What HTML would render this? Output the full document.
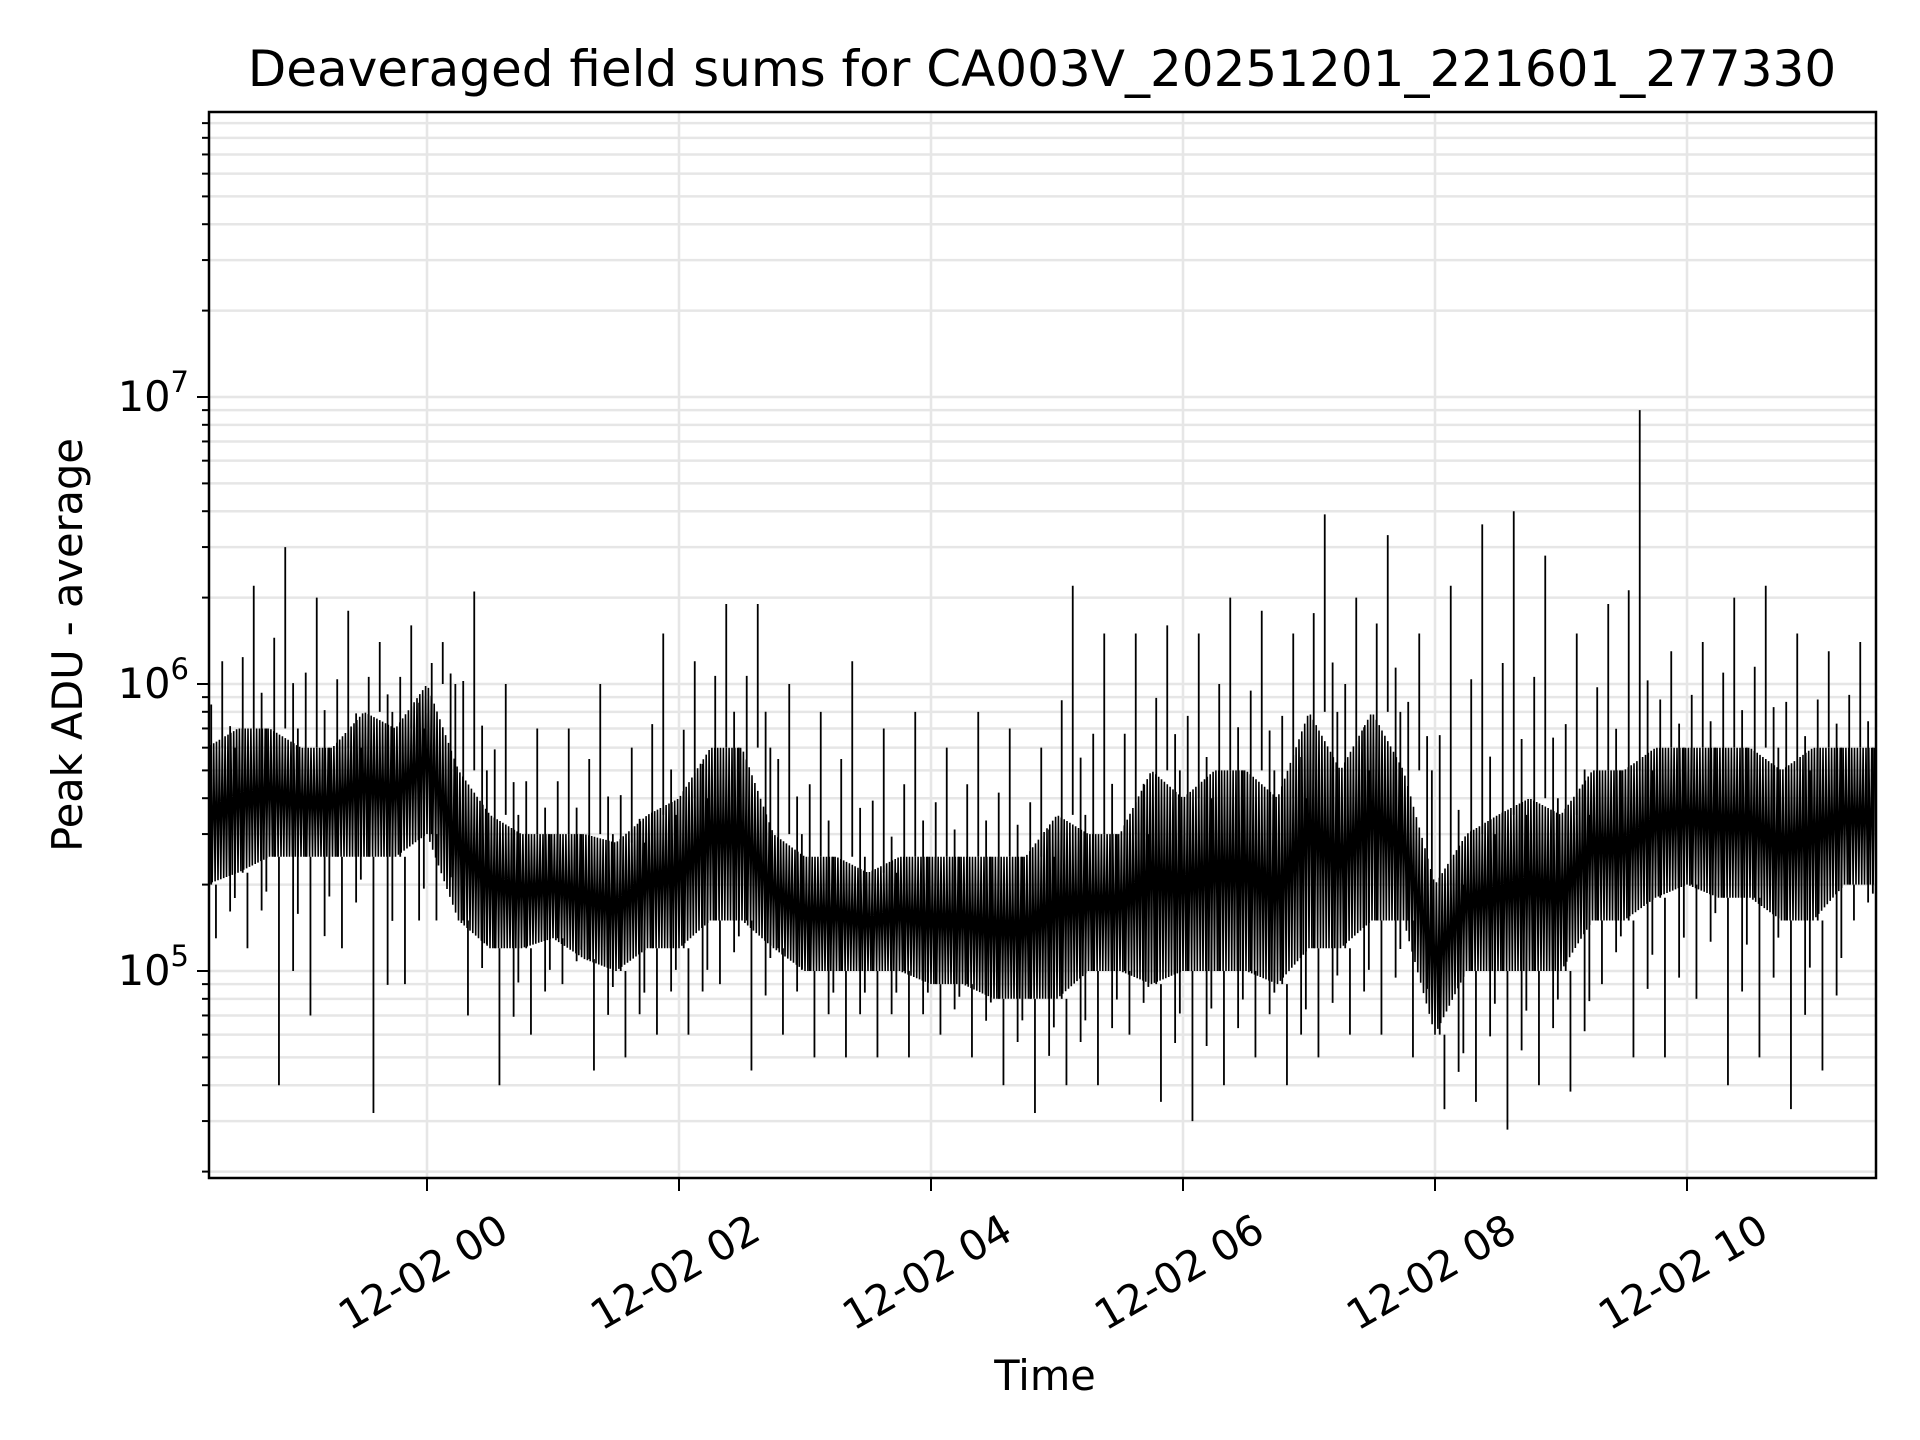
<!DOCTYPE html>
<html><head><meta charset="utf-8"><style>
html,body{margin:0;padding:0;background:#fff}
svg{display:block;font-family:"DejaVu Sans","Liberation Sans",sans-serif}
</style></head><body>
<svg id="chart" width="1920" height="1440" viewBox="0 0 1920 1440" xmlns="http://www.w3.org/2000/svg">
<rect x="0" y="0" width="1920" height="1440" fill="#fff"/>
<g id="grid"></g>
<g id="series"></g>
<rect x="209" y="112" width="1667" height="1066" fill="none" stroke="#000" stroke-width="2.5"/>
<g id="axes"></g>
<text x="1042" y="86" font-size="50" text-anchor="middle">Deaveraged field sums for CA003V_20251201_221601_277330</text>
<text x="1045" y="1390" font-size="41.5" text-anchor="middle">Time</text>
<text transform="translate(82,645) rotate(-90)" font-size="41.5" text-anchor="middle">Peak ADU - average</text>
</svg>
<script>
// Time bins (hours since 12-02 00:00), each 0.25 h wide
const binStart = [-1.75,-1.5,-1.25,-1.0,-0.75,-0.5,-0.25,0,0.25,0.5,0.75,1.0,1.25,1.5,1.75,2.0,2.25,2.5,2.75,3.0,3.25,3.5,3.75,4.0,4.25,4.5,4.75,5.0,5.25,5.5,5.75,6.0,6.25,6.5,6.75,7.0,7.25,7.5,7.75,8.0,8.25,8.5,8.75,9.0,9.25,9.5,9.75,10.0,10.25,10.5,10.75,11.0,11.25];
const spikeLo = [1.3e5,1.2e5,4e4,7e4,1.2e5,3.2e4,9e4,1.5e5,7e4,4e4,6e4,9e4,4.5e4,5e4,6e4,6e4,9e4,4.5e4,6e4,5e4,5e4,5e4,5e4,6e4,5e4,4e4,3.2e4,4e4,4e4,6e4,3.5e4,3e4,4e4,5e4,4e4,5e4,6e4,6e4,5e4,3.3e4,3.5e4,2.8e4,4e4,3.8e4,9e4,5e4,5e4,8e4,4e4,5e4,3.3e4,4.5e4,1.5e5];
const coreLo = [2e5,2.2e5,2.5e5,2.5e5,2.5e5,2.5e5,2.5e5,3e5,1.5e5,1.2e5,1.2e5,1.3e5,1.1e5,1e5,1.2e5,1.2e5,1.5e5,1.5e5,1.2e5,1e5,1e5,1e5,1e5,9e4,9e4,8e4,8e4,8e4,1e5,1e5,9e4,1e5,1e5,1e5,9e4,1.2e5,1.2e5,1.5e5,1.5e5,6e4,1e5,1e5,1e5,1e5,1.5e5,1.5e5,1.8e5,2e5,1.8e5,1.8e5,1.5e5,1.5e5,2e5];
const coreHi = [6e5,7e5,7e5,6e5,6e5,8e5,7e5,1e6,5e5,3.5e5,3e5,3e5,3e5,2.8e5,3.5e5,4e5,6e5,6e5,3e5,2.5e5,2.5e5,2.2e5,2.5e5,2.5e5,2.5e5,2.5e5,2.5e5,3.5e5,3e5,3e5,5e5,4e5,5e5,5e5,4e5,8e5,5e5,8e5,5e5,2e5,3e5,3.5e5,4e5,3.5e5,5e5,5e5,6e5,6e5,6e5,6e5,5e5,6e5,6e5];
const spikeHi = [1.2e6,2.2e6,3e6,2e6,1.8e6,1.4e6,1.6e6,1.4e6,2.1e6,1e6,7e5,7e5,1e6,6e5,1.5e6,1.2e6,1.9e6,1.9e6,1e6,8e5,1.2e6,7e5,8e5,6e5,8e5,7e5,6e5,2.2e6,1.5e6,1.5e6,1.6e6,1.5e6,2e6,1.8e6,1.5e6,3.9e6,2e6,3.3e6,1.5e6,2.2e6,3.6e6,4e6,2.8e6,1.5e6,1.9e6,9e6,1.3e6,1.4e6,2e6,2.2e6,1.5e6,1.3e6,1.4e6];
const xTickHours = [0,2,4,6,8,10];
const xTickLabels = ["12-02 00","12-02 02","12-02 04","12-02 06","12-02 08","12-02 10"];
const yMajorExp = [5,6,7];

const NS = "http://www.w3.org/2000/svg";
const L = 209, R = 1876, T = 112, B = 1178;
const binW = 0.25;
function xs(h){ return 427 + h*126; }
function ys(v){ return 397 + (7 - Math.log10(v))*287; }
function mk(tag, attrs, parent){
  const e = document.createElementNS(NS, tag);
  for (const k in attrs) e.setAttribute(k, attrs[k]);
  parent.appendChild(e); return e;
}
const grid = document.getElementById('grid');
const axes = document.getElementById('axes');
const series = document.getElementById('series');

for (let e = 4; e <= 7; e++) {
  for (let m = 1; m <= 9; m++) {
    const v = m * Math.pow(10, e);
    const y = ys(v);
    if (y < T || y > B) continue;
    const gl = mk('line', {x1:L, x2:R, y1:y, y2:y, stroke:'#e6e6e6', 'stroke-width':2.5}, grid);
    
    
    const len = m === 1 ? 12 : 7;
    const tk = mk('line', {x1:L-len, x2:L, y1:y, y2:y, stroke:'#000', 'stroke-width':2}, axes);
    
    
  }
}
yMajorExp.forEach(function(e){
  const y = ys(Math.pow(10, e));
  const t = mk('text', {x:L-20, y:y+14, 'font-size':41.5, 'text-anchor':'end'}, axes);
  
  
  const a = document.createElementNS(NS, 'tspan'); a.textContent = '10'; t.appendChild(a);
  const b = document.createElementNS(NS, 'tspan'); b.setAttribute('font-size', '29'); b.setAttribute('dy', '-19'); b.textContent = String(e); t.appendChild(b);
});
xTickHours.forEach(function(h, i){
  const x = xs(h);
  const gl = mk('line', {x1:x, x2:x, y1:T, y2:B, stroke:'#e6e6e6', 'stroke-width':2.5}, grid);
  
  
  const tk = mk('line', {x1:x, x2:x, y1:B, y2:B+13, stroke:'#000', 'stroke-width':2}, axes);
  
  
  const t = mk('text', {x:0, y:0, 'font-size':41.5, 'text-anchor':'middle', 'dominant-baseline':'central',
    transform:'translate(' + (x-4) + ',' + (B+94) + ') rotate(-30)'}, axes);
  
  
  t.textContent = xTickLabels[i];
});

const clip = mk('clipPath', {id:'pc'}, series);
mk('rect', {x:L, y:T, width:R-L, height:B-T}, clip);
let pts = [];
const sub = 22;
for (let i = 0; i < binStart.length; i++) {
  const j = Math.min(i+1, binStart.length-1);
  for (let k = 0; k < sub; k++) {
    const f = k / sub;
    const h = binStart[i] + binW*f;
    const lo = Math.exp(Math.log(coreLo[i])*(1-f) + Math.log(coreLo[j])*f);
    const hi = Math.exp(Math.log(coreHi[i])*(1-f) + Math.log(coreHi[j])*f);
    const v = (k % 2 === 0) ? lo : hi;
    pts.push(xs(h).toFixed(1) + ',' + ys(v).toFixed(1));
  }
}
const pl = mk('polyline', {points:pts.join(' '), fill:'none', stroke:'#000', 'stroke-width':1.6, 'clip-path':'url(#pc)'}, series);


for (let i = 0; i < binStart.length; i++) {
  const xc = xs(binStart[i] + binW*0.5);
  const s1 = mk('line', {x1:xc, x2:xc, y1:ys(coreHi[i]), y2:ys(spikeHi[i]), stroke:'#000', 'stroke-width':1.8, 'clip-path':'url(#pc)'}, series);
  
  
  const xl = xs(binStart[i] + binW*0.3);
  const s2 = mk('line', {x1:xl, x2:xl, y1:ys(coreLo[i]), y2:ys(spikeLo[i]), stroke:'#000', 'stroke-width':1.8, 'clip-path':'url(#pc)'}, series);
  
  
  const mh = Math.sqrt(coreHi[i]*spikeHi[i]);
  const ml = Math.sqrt(coreLo[i]*spikeLo[i]);
  const xa = xs(binStart[i] + binW*0.15), xb = xs(binStart[i] + binW*0.75), xd = xs(binStart[i] + binW*0.9);
  const s3 = mk('line', {x1:xa, x2:xa, y1:ys(coreLo[i]), y2:ys(mh), stroke:'#000', 'stroke-width':1.8, 'clip-path':'url(#pc)'}, series);
  
  
  const s4 = mk('line', {x1:xb, x2:xb, y1:ys(ml), y2:ys(Math.sqrt(mh*coreHi[i])), stroke:'#000', 'stroke-width':1.8, 'clip-path':'url(#pc)'}, series);
  
  
  const s5 = mk('line', {x1:xd, x2:xd, y1:ys(Math.sqrt(ml*coreLo[i])), y2:ys(coreHi[i]), stroke:'#000', 'stroke-width':1.8, 'clip-path':'url(#pc)'}, series);
  
  
}
</script>
</body></html>
